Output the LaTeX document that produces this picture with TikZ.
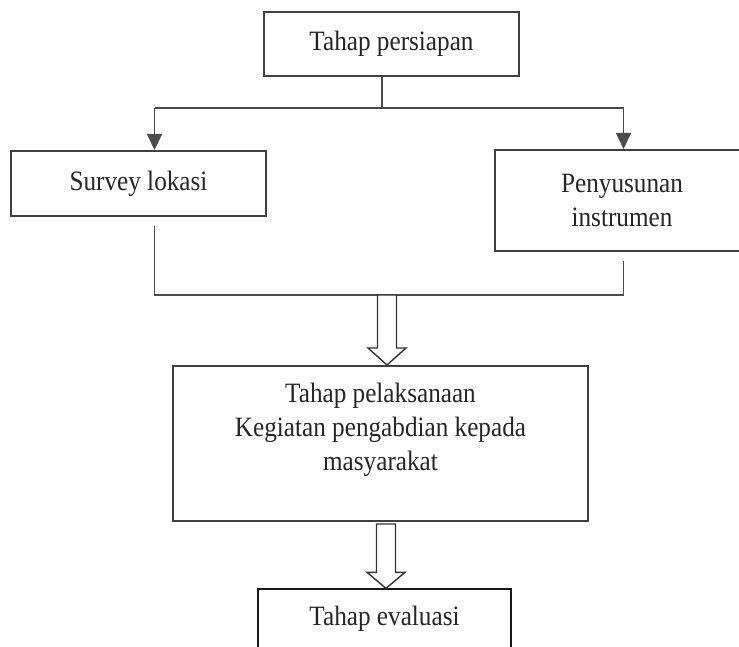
\documentclass[tikz,border=0pt]{standalone}
\usepackage{fontspec}
\setmainfont{Liberation Serif}[FakeStretch=0.9]
\usetikzlibrary{arrows.meta,positioning}

\tikzset{
  kotak/.style = {draw=black!75, line width=2pt, rectangle, align=center,
                  text=black!85, inner sep=0pt},
  garis/.style = {draw=black!70, line width=1.5pt},
  panah/.style = {draw=black!80, line width=1.4pt, fill=white, line join=miter},
}

\begin{document}
\begin{tikzpicture}[x=1pt, y=-1pt, font=\fontsize{28}{34}\selectfont]
            \clip (0,0) rectangle (739,647);
            \fill[white] (0,0) rectangle (739,647);

            % kotak-kotak
            \node[kotak, minimum width=255pt, minimum height=64pt] (persiapan) at (391.5,44) {Tahap persiapan};
            \node[kotak, minimum width=255pt, minimum height=65pt] (survey) at (138.5,183.5) {Survey lokasi};
            \node[kotak, minimum width=254pt, minimum height=101pt] (instrumen) at (622,200.5) {Penyusunan\\instrumen};
            \node[kotak, minimum width=415pt, minimum height=155pt] (pelaksanaan) at (380.5,443.5) {};
            \node[align=center, text=black!85] (teksPelaksanaan) at ([yshift=13.5pt]pelaksanaan.center)
                {Tahap pelaksanaan\\Kegiatan pengabdian kepada\\masyarakat};
            \node[kotak, line width=1.3pt, draw=black!90, minimum width=253pt, minimum height=60pt] (evaluasi) at (384.5,619) {Tahap evaluasi};

            % titik bantu
            \coordinate (cabang) at (382,108);
            \coordinate (kiri) at (154.5,108);
            \coordinate (kanan) at (623.5,108);
            \coordinate (gabung) at (387,295);
            \coordinate (panahB) at (386,524);

            % cabang atas
            \draw[garis] (persiapan.south -| cabang) -- (cabang);
            \draw[garis] (kiri) -- (kanan);
            \draw[garis, -{Triangle[length=16pt, width=15pt]}] (kiri) -- (survey.north -| kiri);
            \draw[garis, -{Triangle[length=16pt, width=15pt]}] (kanan) -- (instrumen.north -| kanan);

            % gabungan bawah
            \draw[garis] ([yshift=-9pt]survey.south -| kiri) |- (gabung) -| ([yshift=-9pt]instrumen.south -| kanan);

            % panah kosong
            \draw[panah] ([xshift=-9.5pt]gabung) -- ([xshift=-9.5pt, yshift=17pt]pelaksanaan.north -| gabung)
                -- ++(-9.5,0) -- (pelaksanaan.north -| gabung) -- ++(19,-17) -- ++(-9.5,0)
                -- ([xshift=9.5pt]gabung) -- cycle;
            \draw[panah] ([xshift=-9.5pt]panahB) -- ([xshift=-9.5pt, yshift=16pt]evaluasi.north -| panahB)
                -- ++(-9.5,0) -- (evaluasi.north -| panahB) -- ++(19,-16) -- ++(-9.5,0)
                -- ([xshift=9.5pt]panahB) -- cycle;
        \end{tikzpicture}
\end{document}
